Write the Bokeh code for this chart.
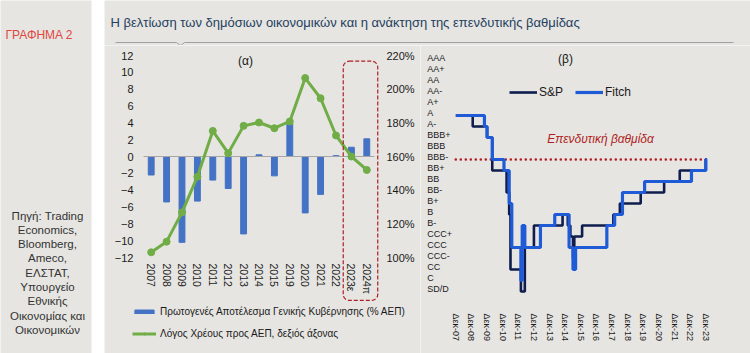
from bokeh.plotting import figure
from bokeh.models import (Range1d, LinearAxis, FixedTicker, PrintfTickFormatter,
                          BoxAnnotation, Legend, LegendItem, Label, ColumnDataSource)
from bokeh.layouts import row, column
from bokeh.embed import file_html
from bokeh.resources import INLINE
from bokeh.core.properties import value

# ---------------- data ----------------
years_a = ["2007", "2008", "2009", "2010", "2011", "2012", "2013", "2014", "2015",
           "2019", "2020", "2021", "2022", "2023ε", "2024π"]
primary_balance = [-2.2, -5.4, -10.2, -5.3, -2.8, -3.8, -9.2, 0.2, -2.3,
                   3.9, -6.7, -4.5, 0.1, 1.1, 2.1]
debt_ratio = [103.1, 109.4, 126.8, 148.0, 175.2, 162.0, 178.2, 180.2, 176.8,
              180.8, 206.6, 194.6, 172.5, 160.0, 152.0]
forecast_years = ["2023ε", "2024π"]
left_ticks = [-12, -10, -8, -6, -4, -2, 0, 2, 4, 6, 8, 10, 12]
right_ticks = [100, 120, 140, 160, 180, 200, 220]

ratings = ["AAA", "AA+", "AA", "AA-", "A+", "A", "A-", "BBB+", "BBB", "BBB-", "BB+", "BB",
           "BB-", "B+", "B", "B-", "CCC+", "CCC", "CCC-", "CC", "C", "SD/D"]
sp_dates = ["2007-12", "2009-01", "2009-12", "2010-04", "2011-03", "2011-05", "2011-06",
            "2012-02", "2012-05", "2012-12", "2014-10", "2015-02", "2015-04", "2015-06",
            "2015-07", "2016-01", "2018-01", "2018-06", "2019-10", "2021-04", "2022-04",
            "2023-12", "2024-01"]
sp_ratings = ["A", "A-", "BBB+", "BB+", "BB-", "B", "CC",
              "SD/D", "CCC", "B-", "B", "B-", "CCC+", "CCC-",
              "CCC+", "B-", "B", "B+", "BB-", "BB", "BB+",
              "BBB-", "BBB-"]
fitch_dates = ["2007-12", "2009-10", "2009-12", "2010-04", "2011-01", "2011-05", "2011-07",
               "2012-02", "2012-03", "2012-05", "2013-05", "2014-04", "2015-03", "2015-06",
               "2015-08", "2017-08", "2018-02", "2018-08", "2020-01", "2023-01", "2023-12",
               "2024-01"]
fitch_ratings = ["A", "A-", "BBB+", "BBB-", "BB+", "B+", "CCC",
                 "C", "B-", "CCC", "B-", "B", "CCC", "CC",
                 "CCC", "B-", "B", "BB-", "BB", "BB+", "BBB-",
                 "BBB-"]
investment_grade = "BBB-"
tick_years_b = list(range(2007, 2024))
tick_labels_b = ["Δεκ-07", "Δεκ-08", "Δεκ-09", "Δεκ-10", "Δεκ-11", "Δεκ-12", "Δεκ-13",
                 "Δεκ-14", "Δεκ-15", "Δεκ-16", "Δεκ-17", "Δεκ-18", "Δεκ-19", "Δεκ-20",
                 "Δεκ-21", "Δεκ-22", "Δεκ-23"]

title_text = "Η βελτίωση των δημόσιων οικονομικών και η ανάκτηση της επενδυτικής βαθμίδας"
chart_no = "ΓΡΑΦΗΜΑ 2"
source_lines = ["Πηγή: Trading", "Economics,", "Bloomberg,", "Ameco,", "ΕΛΣΤΑΤ,",
                "Υπουργείο", "Εθνικής", "Οικονομίας και", "Οικονομικών"]
legend_a = ["Πρωτογενές Αποτέλεσμα Γενικής Κυβέρνησης (% ΑΕΠ)",
            "Λόγος Χρέους προς ΑΕΠ, δεξιός άξονας"]

# ---------------- style ----------------
FONT = "Liberation Sans"
BG = "#e6e5e1"
BAR = "#4472c4"
GREEN = "#70ad47"
SP = "#0e1c4e"
FITCH = "#1f5bd6"
DRED = "#b01e23"
TXT = "#1a1a1a"


def blank(fig):
    fig.background_fill_color = BG
    fig.border_fill_color = BG
    fig.outline_line_color = None
    fig.grid.visible = False


def plain_axis(ax, size):
    ax.axis_line_color = None
    ax.major_tick_line_color = None
    ax.minor_tick_line_color = None
    ax.major_tick_out = 0
    ax.major_tick_in = 0
    ax.minor_tick_out = 0
    ax.minor_tick_in = 0
    ax.major_label_text_font = FONT
    ax.major_label_text_font_size = size
    ax.major_label_text_color = TXT


# ---------------- sidebar ----------------
side = figure(width=104, height=353, x_range=Range1d(0, 91), y_range=Range1d(0, 353),
              min_border_left=0, min_border_right=13, min_border_top=0, min_border_bottom=0,
              x_axis_location=None, y_axis_location=None, toolbar_location=None,
              title=None, output_backend="svg")
blank(side)
side.border_fill_color = "white"
side.add_layout(Label(x=5, y=353 - 34, text=chart_no, text_font=FONT, text_font_size="12px",
                      text_color="#e0473f", text_baseline="middle"))
src = ColumnDataSource(dict(x=[47] * len(source_lines),
                            y=[353 - (215 + 14.3 * i) for i in range(len(source_lines))],
                            t=source_lines))
side.text("x", "y", text="t", source=src, text_font=value(FONT), text_font_size="11.5px",
          text_color="#333333", text_align="center", text_baseline="middle")

# ---------------- title strip ----------------
tfig = figure(width=646, height=45, x_range=Range1d(0, 646), y_range=Range1d(0, 45),
              min_border=0, x_axis_location=None, y_axis_location=None,
              toolbar_location=None, title=None, output_backend="svg")
blank(tfig)
tfig.add_layout(Label(x=6, y=23, text=title_text, text_font=FONT, text_font_size="13px",
                      text_color="#243f60", text_baseline="middle"))
tfig.line([11, 72, 76, 80, 629], [3, 3, 0, 3, 3], line_color="#a0a0a0", line_width=1)

# ---------------- panel (a) ----------------
# whole figure is the frame; axes are pinned at fixed data locations
n_a = len(years_a)
pxu = 231 / n_a                 # px per category
pyu = 202 / 24                  # px per left-axis unit
xa = [i + 0.5 for i in range(n_a)]
pa = figure(width=316, height=308,
            x_range=Range1d(-39 / pxu, n_a + 46 / pxu),
            y_range=Range1d(left_ticks[0] - 96 / pyu, left_ticks[-1] + 10 / pyu),
            min_border=0, x_axis_location=None, y_axis_location=None,
            toolbar_location=None, title=None, output_backend="svg")
blank(pa)
k = (right_ticks[-1] - right_ticks[0]) / (left_ticks[-1] - left_ticks[0])
c = (right_ticks[-1] + right_ticks[0]) / 2
pa.extra_y_ranges = {"debt": Range1d(c + k * pa.y_range.start, c + k * pa.y_range.end)}

bars = pa.vbar(x=xa, top=primary_balance, width=0.38, color=BAR)
pa.line([0, n_a], [0, 0], line_color="#a6a6a6", line_width=1)
dline = pa.line(xa, debt_ratio, y_range_name="debt", line_color=GREEN, line_width=3)
dpts = pa.scatter(xa, debt_ratio, y_range_name="debt", size=7, color=GREEN)

xax = LinearAxis(fixed_location=left_ticks[0], ticker=FixedTicker(ticks=xa))
xax.major_label_overrides = {x: lab for x, lab in zip(xa, years_a)}
xax.major_label_orientation = "vertical"
xax.major_label_standoff = 6
plain_axis(xax, "10.5px")
pa.add_layout(xax, "below")

lax = LinearAxis(fixed_location=0, ticker=FixedTicker(ticks=left_ticks))
lax.major_label_standoff = 10
plain_axis(lax, "11px")
pa.add_layout(lax, "left")

rax = LinearAxis(y_range_name="debt", fixed_location=n_a, ticker=FixedTicker(ticks=right_ticks),
                 formatter=PrintfTickFormatter(format="%d%%"))
rax.major_label_standoff = 12
plain_axis(rax, "11px")
pa.add_layout(rax, "right")

fi0 = years_a.index(forecast_years[0])
fi1 = years_a.index(forecast_years[-1])
pa.add_layout(BoxAnnotation(left=fi0 - 0.03, right=fi1 + 1.21, top=11.32, bottom=-17.1,
                            fill_color=None, fill_alpha=0, line_color=DRED, line_alpha=1,
                            line_width=1.2, line_dash="4 2", border_radius=6))
pa.add_layout(Label(x=6.62, y=11.32, text="(α)", text_font=FONT, text_font_size="12px",
                    text_color=TXT, text_align="center", text_baseline="middle"))

lega = Legend(items=[LegendItem(label=legend_a[0], renderers=[bars]),
                     LegendItem(label=legend_a[1], renderers=[dline, dpts])],
              location=(28, 10), orientation="vertical", padding=0, margin=0, spacing=2,
              glyph_width=24, glyph_height=5, label_height=20, label_standoff=4,
              label_text_font=FONT, label_text_font_size="10px", label_text_color=TXT,
              background_fill_alpha=0, border_line_color=None)
pa.add_layout(lega)

# ---------------- panel (b) ----------------
n_r = len(ratings)


def rating_val(r):
    return n_r - 1 - ratings.index(r)


def dec_year(d):
    y, m = d.split("-")
    return int(y) + (int(m) - 1) / 12


pxy = 15.625      # px per year
pyl = 11.0        # px per rating notch
x0b = tick_years_b[0] + 11 / 12 - (455.3 - 420) / pxy
top_v = (n_r - 1) + (60 - 45) / pyl
pb = figure(width=330, height=308,
            x_range=Range1d(x0b, x0b + 330 / pxy),
            y_range=Range1d(top_v - 308 / pyl, top_v),
            min_border=0, x_axis_location=None, y_axis_location=None,
            toolbar_location=None, title=None, output_backend="svg")
blank(pb)

ig = rating_val(investment_grade)
pb.line([dec_year(sp_dates[0]), dec_year(sp_dates[-1])], [ig, ig], line_color=DRED,
        line_width=2.6, line_dash="0 5", line_cap="round")
sp_r = pb.step([dec_year(d) for d in sp_dates], [rating_val(r) for r in sp_ratings],
               mode="after", line_color=SP, line_width=2.6)
fi_r = pb.step([dec_year(d) for d in fitch_dates], [rating_val(r) for r in fitch_ratings],
               mode="after", line_color=FITCH, line_width=3.2)

lsrc = ColumnDataSource(dict(x=[x0b + 6.7 / pxy] * n_r,
                             y=[rating_val(r) + 2.7 / pyl for r in ratings], t=ratings))
pb.text("x", "y", text="t", source=lsrc, text_font=value(FONT), text_font_size="9px",
        text_color=TXT, text_align="left", text_baseline="middle")

tb = [y + 11 / 12 for y in tick_years_b]
bax = LinearAxis(fixed_location=(n_r - 1) - (303 - 60) / pyl, ticker=FixedTicker(ticks=tb))
bax.major_label_overrides = {x: lab for x, lab in zip(tb, tick_labels_b)}
bax.major_label_orientation = "vertical"
bax.major_label_standoff = 10
plain_axis(bax, "9px")
pb.add_layout(bax, "below")

pb.add_layout(Label(x=x0b + (565 - 420) / pxy, y=top_v - (58 - 45) / pyl, text="(β)",
                    text_font=FONT, text_font_size="12px", text_color=TXT,
                    text_align="center", text_baseline="middle"))
pb.add_layout(Label(x=x0b + (600 - 420) / pxy, y=top_v - (138 - 45) / pyl,
                    text="Επενδυτική βαθμίδα", text_font=FONT, text_font_size="12px",
                    text_font_style="italic", text_color=DRED, text_align="center",
                    text_baseline="middle"))

legb = Legend(items=[LegendItem(label="S&P", renderers=[sp_r]),
                     LegendItem(label="Fitch", renderers=[fi_r])],
              location=(89, 251), orientation="horizontal", padding=0, margin=0, spacing=12,
              glyph_width=28, glyph_height=20, label_height=20, label_standoff=2,
              label_text_font=FONT, label_text_font_size="12px", label_text_color=TXT,
              background_fill_alpha=0, border_line_color=None)
pb.add_layout(legb)

layout = row(side, column(tfig, row(pa, pb)))
open("out.html", "w").write(file_html(layout, INLINE))
